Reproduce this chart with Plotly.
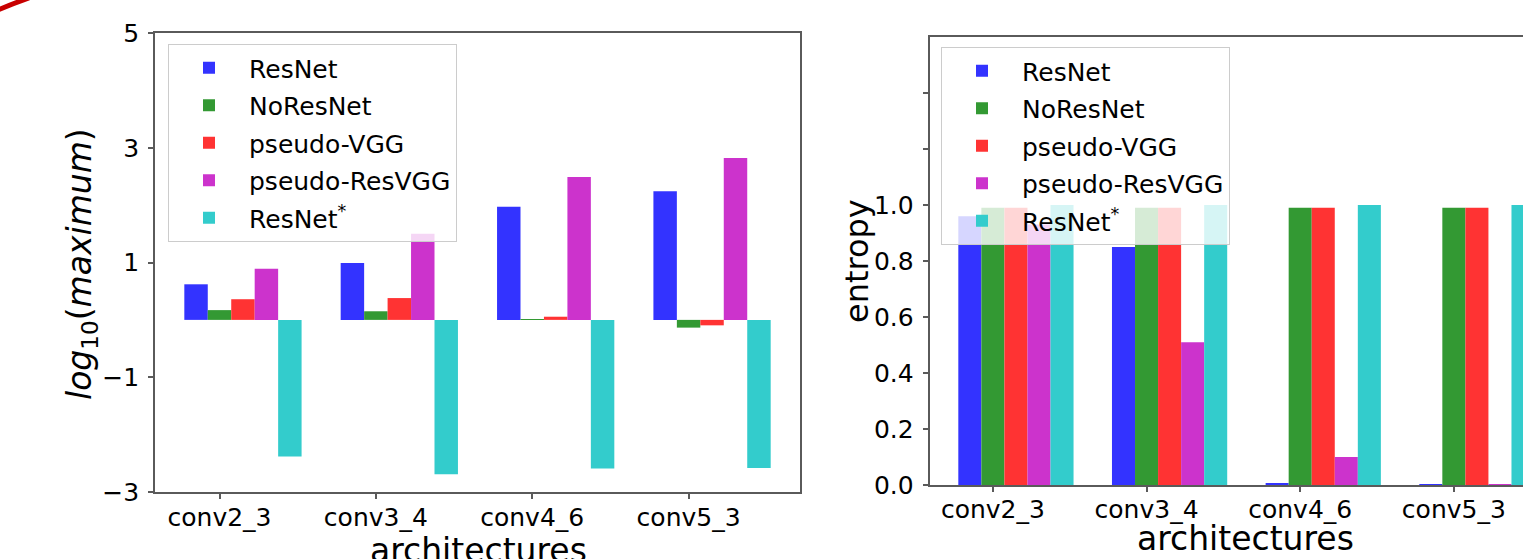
import plotly.graph_objects as go

# ---------------- data ----------------
categories = ["conv2_3", "conv3_4", "conv4_6", "conv5_3"]
series_names = ["ResNet", "NoResNet", "pseudo-VGG", "pseudo-ResVGG", "ResNet<sup>*</sup>"]

# left panel: log10(maximum)
logmax_resnet = [0.62, 0.99, 1.97, 2.24]
logmax_noresnet = [0.17, 0.15, 0.01, -0.135]
logmax_pseudo_vgg = [0.36, 0.38, 0.055, -0.095]
logmax_pseudo_resvgg = [0.89, 1.50, 2.49, 2.82]
logmax_resnet_star = [-2.38, -2.69, -2.59, -2.58]

# right panel: entropy
entropy_resnet = [0.96, 0.85, 0.007, 0.002]
entropy_noresnet = [0.99, 0.99, 0.99, 0.99]
entropy_pseudo_vgg = [0.99, 0.99, 0.99, 0.99]
entropy_pseudo_resvgg = [0.93, 0.51, 0.10, 0.002]
entropy_resnet_star = [1.0, 1.0, 1.0, 1.0]

left_ticks = [-3, -1, 1, 3, 5]
right_ticks = [0.0, 0.2, 0.4, 0.6, 0.8, 1.0]
right_ticktext = ["0.0", "0.2", "0.4", "0.6", "0.8", "1.0"]
right_minor_ticks = [1.2, 1.4]

# ---------------- style / layout ----------------
colors = ["#3333FF", "#339933", "#FF3333", "#CC33CC", "#33CCCC"]
FONT = "DejaVu Sans"
W, H = 1523, 559
ML, MR, MT, MB = 155, 0, 33, 67
PW = W - ML - MR
PH = H - MT - MB


def px_x(px):
    return (px - ML) / PW


def px_y(py):
    return (H - MB - py) / PH


left_data = [logmax_resnet, logmax_noresnet, logmax_pseudo_vgg,
             logmax_pseudo_resvgg, logmax_resnet_star]
right_data = [entropy_resnet, entropy_noresnet, entropy_pseudo_vgg,
              entropy_pseudo_resvgg, entropy_resnet_star]

x_pos = list(range(len(categories)))
n_series = len(series_names)
bargap = 0.25
bar_w = (1 - bargap) / n_series
tick_pos = [p - (1 - bargap) / 2 + 1.5 * bar_w for p in x_pos]

fig = go.Figure()
for i in range(n_series):
    fig.add_trace(go.Bar(
        x=x_pos, y=left_data[i], name=series_names[i],
        marker=dict(color=colors[i], line=dict(width=0)),
        xaxis="x", yaxis="y", legend="legend", legendgroup=f"l{i}",
    ))
for i in range(n_series):
    fig.add_trace(go.Bar(
        x=x_pos, y=right_data[i], name=series_names[i],
        marker=dict(color=colors[i], line=dict(width=0)),
        xaxis="x2", yaxis="y2", legend="legend2", legendgroup=f"r{i}",
    ))

axis_common = dict(
    showline=True, linecolor="#5a5a5a", linewidth=1.6,
    ticks="outside", ticklen=5, tickwidth=1.5, tickcolor="#5a5a5a",
    showgrid=False, zeroline=False,
    tickfont=dict(family=FONT, size=25, color="black"),
)

legend_common = dict(
    xanchor="left", yanchor="top",
    bgcolor="rgba(255,255,255,0.8)", bordercolor="#cccccc", borderwidth=1,
    font=dict(family=FONT, size=25, color="black"),
    itemwidth=70, tracegroupgap=2, traceorder="grouped",
)

red_path = "M {:.5f},{:.5f} Q {:.5f},{:.5f} {:.5f},{:.5f}".format(
    px_x(-2), px_y(10), px_x(12), px_y(4), px_x(29), px_y(-2))

fig.update_layout(
    width=W, height=H,
    margin=dict(l=ML, r=MR, t=MT, b=MB, pad=0),
    paper_bgcolor="white", plot_bgcolor="white",
    barmode="group", bargap=bargap, bargroupgap=0,
    font=dict(family=FONT, color="black"),
    xaxis=dict(domain=[0, px_x(800)], range=[-0.5625, 3.5625],
               tickvals=tick_pos, ticktext=categories, mirror=True,
               anchor="y", ticklabelstandoff=-3, **axis_common),
    yaxis=dict(domain=[0, 1], range=[-3, 5], tickvals=left_ticks,
               mirror=True, anchor="x", ticklabelstandoff=4, **axis_common),
    xaxis2=dict(domain=[px_x(929.5), 1], range=[-0.5625, 3.30],
                tickvals=tick_pos, ticktext=categories, mirror=True,
                anchor="y2", ticklabelstandoff=-4, **axis_common),
    yaxis2=dict(domain=[px_y(485), px_y(37)], range=[0, 1.6],
                tickvals=right_ticks, ticktext=right_ticktext,
                minor=dict(tickmode="array", tickvals=right_minor_ticks,
                           ticks="outside", ticklen=5, tickwidth=1.5,
                           tickcolor="#5a5a5a", showgrid=False),
                anchor="x2", ticklabelstandoff=4, **axis_common),
    legend=dict(x=px_x(168), y=px_y(44), **legend_common),
    legend2=dict(x=px_x(941), y=px_y(47), **legend_common),
    showlegend=True,
    annotations=[
        dict(text="<i>log</i><sub>10</sub>(<i>maximum</i>)", textangle=-90,
             x=px_x(81), y=px_y(264), xref="paper", yref="paper",
             xanchor="center", yanchor="middle", showarrow=False,
             font=dict(family=FONT, size=33)),
        dict(text="entropy", textangle=-90,
             x=px_x(857), y=px_y(261), xref="paper", yref="paper",
             xanchor="center", yanchor="middle", showarrow=False,
             font=dict(family=FONT, size=32)),
        dict(text="architectures", x=px_x(478), y=px_y(529),
             xref="paper", yref="paper", xanchor="center", yanchor="top",
             showarrow=False, font=dict(family=FONT, size=33)),
        dict(text="architectures", x=px_x(1245), y=px_y(517),
             xref="paper", yref="paper", xanchor="center", yanchor="top",
             showarrow=False, font=dict(family=FONT, size=33)),
    ],
    shapes=[dict(type="path", path=red_path, xref="paper", yref="paper",
                 line=dict(color="#C80000", width=5))],
)

fig.write_html("out.html", config={"displayModeBar": False},
               post_script="document.body.style.margin='0px';")
